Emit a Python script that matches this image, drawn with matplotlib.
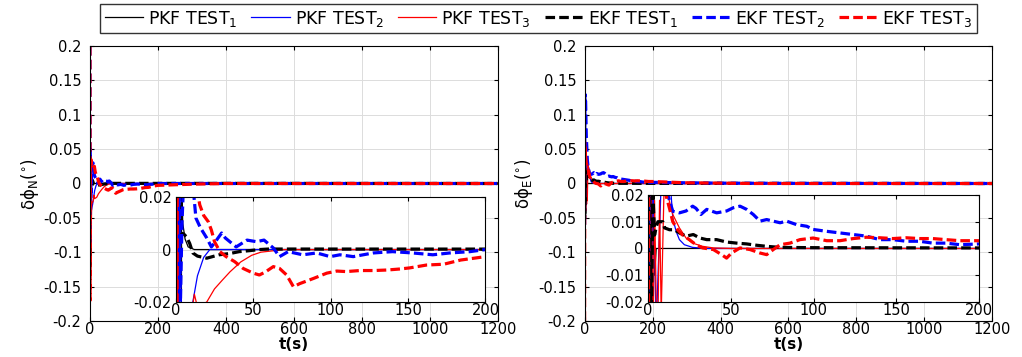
import matplotlib
matplotlib.use("Agg")
import matplotlib.pyplot as plt
from matplotlib.ticker import FormatStrFormatter, MultipleLocator
from matplotlib.lines import Line2D

plt.rcParams["font.family"] = ["DejaVu Sans"]
plt.rcParams["mathtext.fontset"] = "dejavusans"
plt.rcParams["axes.unicode_minus"] = False

# ---------------- data: delta phi North ----------------
t_pkf1_n = [0, 3.5, 3.8, 4.5, 6, 8, 12, 1200]
pkf1_n = [-0.2, -0.05, 0.025, 0.01, 0.004, 0.001, 0, 0]

t_pkf2_n = [0, 1, 2, 4, 8, 11, 14, 18, 22, 30, 1200]
pkf2_n = [0.01, -0.08, 0.03, -0.04, -0.03, -0.02, -0.01, -0.003, 0, 0, 0]

t_pkf3_n = [0, 0.8, 1.5, 2.5, 5, 10, 12, 14, 20, 25, 30, 35, 42, 49, 55, 61, 70, 1200]
pkf3_n = [0.2, -0.18, 0.03, -0.1, -0.03, -0.025, -0.017, -0.022, -0.02, -0.015, -0.0117,
          -0.0085, -0.0047, -0.0022, -0.001, -0.0006, 0, 0]

t_ekf1_n = [0, 1, 2, 2.6, 5, 7, 9, 11, 14, 20, 28, 35, 41, 48, 54, 60, 1200]
ekf1_n = [0.01, -0.12, 0.03, 0.0063, 0.006, 0.0048, 0.0023, -0.0013, -0.0025, -0.0033,
          -0.002, -0.0015, -0.0008, -0.0004, 0, 0.0002, 0]

t_ekf2_n = [0, 0.5, 1, 1.5, 2, 3, 4, 5, 7, 9, 11, 13, 16, 20, 23, 25, 29.6, 32, 39, 46,
            52, 57, 63, 67, 72.6, 82, 91, 99.7, 106, 114.6, 127.5, 140, 153, 166, 177,
            190, 200, 1200]
ekf2_n = [0.2, -0.09, 0.05, -0.03, 0.03, -0.02, 0.01, 0.025, 0.03, 0.03, 0.025, 0.012,
          0.0082, 0.0044, 0.001, 0.0025, 0.0063, 0.0044, 0.001, 0.0036, 0.003, 0.0036,
          0.0006, -0.0027, -0.0008, -0.002, -0.0013, -0.0027, -0.002, -0.0027, -0.0013,
          -0.0008, -0.0013, -0.002, -0.0013, -0.0008, 0, 0]

t_ekf3_n = [0, 0.5, 1, 1.5, 2, 3, 4, 6, 8, 10, 13, 15.5, 18, 21, 23, 25, 28.5, 32.5, 38,
            43.5, 50, 54, 58, 63, 67, 71.6, 76, 80, 89, 97.5, 104, 110, 119, 128, 136.5,
            145, 151, 162, 173, 184, 200, 300, 400, 1200]
ekf3_n = [0.2, -0.17, 0.035, 0.02, 0.03, 0.035, 0.03, 0.025, 0.022, 0.024, 0.025, 0.017,
          0.013, 0.0106, 0.0074, 0.003, -0.0008, -0.0027, -0.0046, -0.0072, -0.009,
          -0.0097, -0.0085, -0.0065, -0.0072, -0.0097, -0.0142, -0.013, -0.011, -0.009,
          -0.0082, -0.0084, -0.008, -0.008, -0.0078, -0.0074, -0.007, -0.0059, -0.0056,
          -0.004, -0.0027, -0.001, 0, 0]

# ---------------- data: delta phi East ----------------
t_pkf1_e = [0, 0.5, 1, 2, 3, 4, 5, 7, 1200]
pkf1_e = [0.2, -0.2, 0.03, -0.05, 0.015, -0.01, 0, 0, 0]

t_pkf2_e = [0, 1, 2, 3, 5, 8, 11, 14, 15, 17, 19, 22, 27, 35, 1200]
pkf2_e = [-0.2, 0.12, -0.05, 0.03, -0.03, 0.025, 0.025, 0.02, 0.0114, 0.0064, 0.0033,
          0.0014, 0.0004, 0, 0]

t_pkf3_e = [0, 1, 2, 3, 4, 5, 6, 7, 8, 10, 12, 15, 19, 23, 27, 33, 39.5, 50, 1200]
pkf3_e = [0.05, -0.2, 0.03, -0.04, 0.018, -0.02, -0.03, 0.018, -0.025, 0.03, 0.02, 0.0127,
          0.0077, 0.0039, 0.002, 0.0008, 0.0002, 0, 0]

t_ekf1_e = [0, 0.5, 1, 2, 3, 4, 5, 6, 9, 10, 13, 16, 19, 23, 27.4, 31.4, 35.5, 41.5, 47.5,
            53.6, 59.6, 65.7, 71.7, 79.8, 100, 200, 1200]
ekf1_e = [0.03, -0.05, 0.02, -0.03, 0.02, 0.005, 0.008, 0.01, 0.01, 0.0077, 0.007, 0.007,
          0.0058, 0.0046, 0.0052, 0.0039, 0.0033, 0.0033, 0.0024, 0.002, 0.0017, 0.0012,
          0.0008, 0.0004, 0.0003, 0.0002, 0]

t_ekf2_e = [0, 1, 2, 3, 5, 8, 10, 12, 15, 19, 23, 27, 29, 32, 35.5, 41.5, 47.5, 51.5,
            55.6, 59.6, 63.6, 67.7, 71.7, 75.7, 79.8, 83.8, 89.8, 95.9, 99.8, 108, 116,
            124, 132, 140, 148, 156, 164, 172, 180, 188.5, 200, 300, 400, 600, 1200]
ekf2_e = [-0.06, 0.13, 0.11, 0.12, 0.07, 0.035, 0.025, 0.02, 0.0139, 0.0133, 0.014, 0.0158,
          0.015, 0.0127, 0.0146, 0.0133, 0.014, 0.0152, 0.0158, 0.0146, 0.0127, 0.0102,
          0.0108, 0.0102, 0.0096, 0.0102, 0.0089, 0.0083, 0.0071, 0.0064, 0.0058, 0.0052,
          0.0046, 0.0033, 0.0033, 0.0027, 0.0027, 0.002, 0.002, 0.0014, 0.0017, 0.001,
          0.0005, 0.0002, 0]

t_ekf3_e = [0, 0.5, 1, 2, 3, 5, 8, 10, 13, 15, 18, 21, 25, 29, 33, 39.5, 44.5, 47.5, 50.5,
            55.6, 61.6, 67.7, 71.7, 75.7, 79.8, 85.8, 91.8, 99.8, 108, 116, 124, 132, 140,
            148, 156, 164, 172, 180, 188.5, 200, 300, 500, 1200]
ekf3_e = [-0.2, 0.06, 0.03, 0.05, 0.04, 0.03, 0.025, 0.022, 0.015, 0.010, 0.007, 0.005,
          0.0033, 0.0014, 0.0002, -0.0004, -0.0023, -0.0036, -0.0017, 0.0002, -0.0004,
          -0.0017, -0.0023, -0.0004, 0.0014, 0.002, 0.0033, 0.0039, 0.0029, 0.0029, 0.0037,
          0.0042, 0.004, 0.0037, 0.004, 0.0037, 0.0037, 0.0033, 0.0029, 0.0029, 0.001, 0, 0]

labels = ["PKF TEST$_1$", "PKF TEST$_2$", "PKF TEST$_3$",
          "EKF TEST$_1$", "EKF TEST$_2$", "EKF TEST$_3$"]
colors = ["black", "blue", "red", "black", "blue", "red"]

series_n = [(t_pkf1_n, pkf1_n), (t_pkf2_n, pkf2_n), (t_pkf3_n, pkf3_n),
            (t_ekf1_n, ekf1_n), (t_ekf2_n, ekf2_n), (t_ekf3_n, ekf3_n)]
series_e = [(t_pkf1_e, pkf1_e), (t_pkf2_e, pkf2_e), (t_pkf3_e, pkf3_e),
            (t_ekf1_e, ekf1_e), (t_ekf2_e, ekf2_e), (t_ekf3_e, ekf3_e)]

THIN = 0.9
THICK = 2.3
DASH = (3.0, 1.3)


def style_axes(ax):
    ax.grid(True, color="#dcdcdc", linewidth=0.7)
    ax.set_axisbelow(True)
    ax.tick_params(direction="in", length=3, top=True, right=True, labelsize=10.5)
    ax.tick_params(axis="x", pad=1)
    ax.tick_params(axis="y", pad=6)
    for s in ax.spines.values():
        s.set_linewidth(0.8)


def draw(ax, series):
    for i, (t, v) in enumerate(series):
        if i < 3:
            ax.plot(t, v, color=colors[i], lw=THIN)
        else:
            ax.plot(t, v, color=colors[i], lw=THICK, dashes=DASH)


fig = plt.figure(figsize=(10.22, 3.57), dpi=100)

main_pos = [[0.088, 0.101, 0.399, 0.770], [0.572, 0.101, 0.399, 0.770]]
inset_pos = [[0.172, 0.154, 0.303, 0.294], [0.634, 0.154, 0.324, 0.300]]
ylabels = [r"δϕ$_{\mathrm{N}}$($^{\circ}$)", r"δϕ$_{\mathrm{E}}$($^{\circ}$)"]
inset_yticks = [[-0.02, 0, 0.02], [-0.02, -0.01, 0, 0.01, 0.02]]

for k, series in enumerate([series_n, series_e]):
    ax = fig.add_axes(main_pos[k])
    draw(ax, series)
    ax.set_xlim(0, 1200)
    ax.set_ylim(-0.2, 0.2)
    ax.xaxis.set_major_locator(MultipleLocator(200))
    ax.yaxis.set_major_locator(MultipleLocator(0.05))
    ax.yaxis.set_major_formatter(FormatStrFormatter("%g"))
    style_axes(ax)
    ax.set_xlabel("t(s)", fontsize=11, fontweight="bold", labelpad=0)
    ax.set_ylabel(ylabels[k], fontsize=12, labelpad=2)

    ins = fig.add_axes(inset_pos[k])
    ins.set_facecolor("white")
    draw(ins, series)
    ins.set_xlim(0, 200)
    ins.set_ylim(-0.02, 0.02)
    ins.xaxis.set_major_locator(MultipleLocator(50))
    ins.set_yticks(inset_yticks[k])
    ins.yaxis.set_major_formatter(FormatStrFormatter("%g"))
    style_axes(ins)
    ins.tick_params(axis="y", pad=3)

handles = []
for i in range(6):
    if i < 3:
        handles.append(Line2D([], [], color=colors[i], lw=THIN))
    else:
        handles.append(Line2D([], [], color=colors[i], lw=THICK, dashes=DASH))

leg = fig.legend(handles, labels, loc="center", bbox_to_anchor=(0.527, 0.948), ncol=6,
                 fontsize=12.5, frameon=True, fancybox=False, edgecolor="black",
                 handlelength=2.2, handletextpad=0.3, columnspacing=0.8,
                 borderpad=0.25, borderaxespad=0)
leg.get_frame().set_linewidth(1.0)

fig.savefig("out.png", dpi=100)
